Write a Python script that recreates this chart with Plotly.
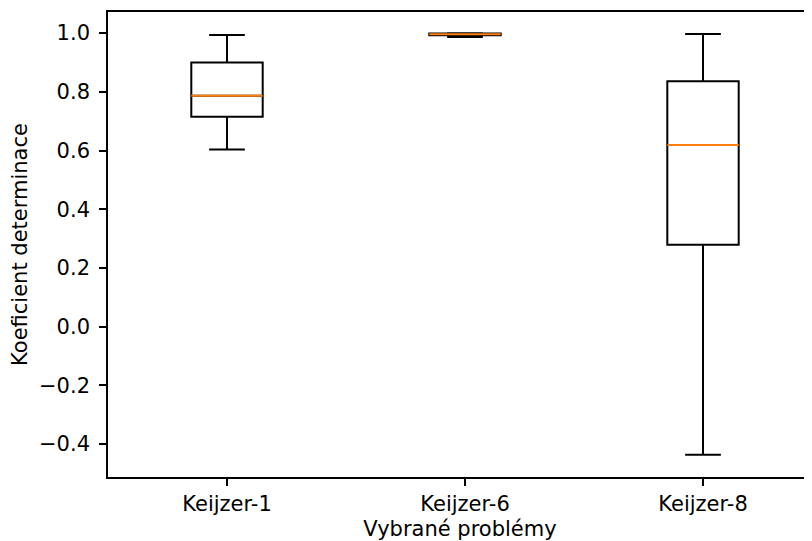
import plotly.graph_objects as go

categories = ["Keijzer-1", "Keijzer-6", "Keijzer-8"]
positions = [1, 2, 3]
lower_whisker = [0.604, 0.987, -0.436]
q1 = [0.715, 0.993, 0.279]
median = [0.787, 0.996, 0.619]
q3 = [0.900, 0.999, 0.836]
upper_whisker = [0.994, 1.000, 0.997]
y_ticks = [-0.4, -0.2, 0.0, 0.2, 0.4, 0.6, 0.8, 1.0]
y_tick_labels = ["−0.4", "−0.2", "0.0", "0.2", "0.4", "0.6", "0.8", "1.0"]

BOX_W = 0.3
FONT = dict(family="DejaVu Sans", size=21, color="black")

fig = go.Figure()
for i, cat in enumerate(categories):
    fig.add_trace(go.Box(
        x=[positions[i]], q1=[q1[i]], median=[median[i]], q3=[q3[i]],
        lowerfence=[lower_whisker[i]], upperfence=[upper_whisker[i]],
        width=BOX_W, whiskerwidth=0.5, boxpoints=False,
        line=dict(color="black", width=2), fillcolor="white",
        name=cat, showlegend=False, hoverinfo="skip",
    ))

mx, my = [], []
for p, m in zip(positions, median):
    mx += [p - BOX_W / 2, p + BOX_W / 2, None]
    my += [m, m, None]
fig.add_trace(go.Scatter(x=mx, y=my, mode="lines",
                         line=dict(color="#ff7f0e", width=2),
                         showlegend=False, hoverinfo="skip"))

# page body has an 8px margin, so the figure is offset by (8, 8)
fig.update_layout(
    width=804, height=533,
    margin=dict(l=100, r=0, t=4, b=64),
    plot_bgcolor="white", paper_bgcolor="white",
    font=FONT,
    xaxis=dict(
        range=[0.5, 0.5 + 704 / 238], tickvals=positions, ticktext=categories,
        showgrid=False, zeroline=False, showline=True, mirror=True,
        linecolor="black", linewidth=1.6,
        ticks="outside", ticklen=7, tickwidth=1.6, tickcolor="black",
        ticklabelstandoff=0,
        tickfont=FONT,
        title=dict(text="Vybrané problémy", font=FONT, standoff=10),
    ),
    yaxis=dict(
        range=[-0.512, 1.072], tickvals=y_ticks, ticktext=y_tick_labels,
        showgrid=False, zeroline=False, showline=True, mirror=False,
        linecolor="black", linewidth=1.6,
        ticks="outside", ticklen=7, tickwidth=1.6, tickcolor="black",
        ticklabelstandoff=5,
        tickfont=FONT,
        title=dict(text="Koeficient determinace", font=FONT, standoff=10),
    ),
)

fig.write_html("out.html")
